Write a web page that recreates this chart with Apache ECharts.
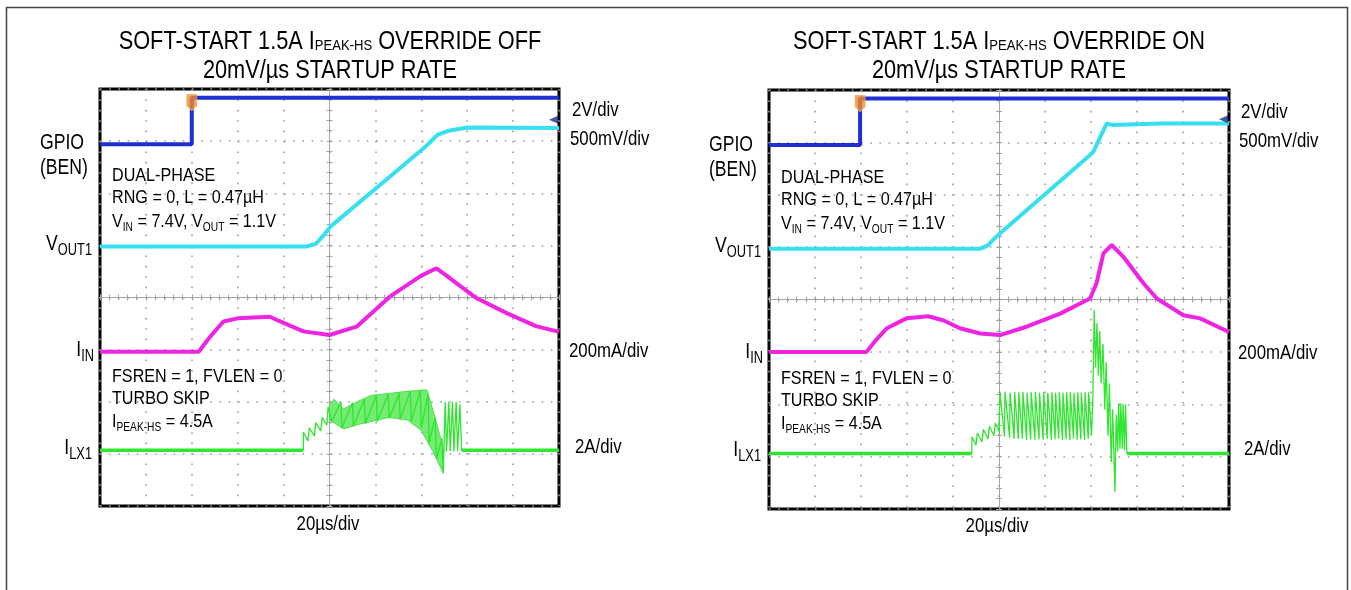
<!DOCTYPE html>
<html>
<head>
<meta charset="utf-8">
<script src="https://cdn.jsdelivr.net/npm/echarts@6/dist/echarts.min.js"></script>
<style>
  html, body { margin: 0; padding: 0; background: #fff; }
  #chart { width: 1351px; height: 590px; }
</style>
</head>
<body>
<div id="chart"></div>
<script>
// x: divisions from screen centre (20us/div), y: divisions from screen centre

// ---- left scope shot: 1.5A IPEAK-HS override OFF
const gpioOff = [[-5, 2.94], [-3.0, 2.94], [-3.0, 3.83], [5, 3.83]];
const voutOff = [[-5, 0.98], [-0.5, 0.98], [-0.3, 1.03], [-0.12, 1.2], [0.02, 1.36], [1.32, 2.32], [2.1, 2.9], [2.35, 3.12], [2.6, 3.2], [3.0, 3.26], [5, 3.25]];
const iinOff = [[-5, -1.04], [-2.85, -1.04], [-2.6, -0.75], [-2.31, -0.46], [-2.0, -0.4], [-1.3, -0.37], [-1.1, -0.45], [-0.57, -0.65], [0.0, -0.72], [0.59, -0.56], [1.32, 0.02], [2.0, 0.42], [2.33, 0.56], [2.55, 0.42], [2.77, 0.27], [3.2, -0.01], [3.86, -0.3], [4.5, -0.55], [5, -0.66]];
const ilxPreOff = [[-5, -2.93], [-0.57, -2.93]];
const ilxPostOff = [[2.88, -2.93], [5, -2.93]];
const ilxBurstOff = [[-0.57, -2.93], [-0.57, -2.58], [-0.47, -2.75], [-0.44, -2.5], [-0.33, -2.66], [-0.3, -2.4], [-0.19, -2.56], [-0.16, -2.3], [-0.06, -2.45], [-0.03, -2.1], [0.05, -2.38],
  [0.25, -2.0], [0.27, -2.5], [0.5, -2.02], [0.52, -2.47], [0.76, -1.95], [0.78, -2.42], [1.02, -1.88], [1.04, -2.38], [1.28, -1.85], [1.3, -2.32], [1.52, -1.83], [1.54, -2.33],
  [1.76, -1.8], [1.78, -2.38], [1.98, -1.78], [2.0, -2.5], [2.15, -1.85], [2.17, -2.8], [2.3, -2.3], [2.33, -3.1], [2.45, -2.7], [2.48, -3.37],
  [2.52, -2.0], [2.55, -2.95], [2.6, -2.0], [2.63, -2.95], [2.68, -2.0], [2.71, -2.95], [2.76, -2.0], [2.79, -2.95], [2.84, -2.05], [2.88, -2.93]];
const ilxBandTopOff = [[0.0, -2.06], [0.1, -1.95], [0.3, -2.14], [0.6, -2.0], [0.9, -1.88], [1.3, -1.84], [1.7, -1.8], [2.12, -1.77], [2.3, -2.3], [2.48, -2.9]];
const ilxBandBottomOff = [[0.0, -2.35], [0.3, -2.52], [0.7, -2.42], [1.3, -2.3], [1.7, -2.35], [2.0, -2.55], [2.25, -2.95], [2.48, -3.37]];
const trigOff = [[-3.0, 3.74]];
const levelOff = [[4.88, 3.41]];

// ---- right scope shot: 1.5A IPEAK-HS override ON
const gpioOn = [[-5, 2.95], [-3.02, 2.95], [-3.02, 3.84], [5, 3.84]];
const voutOn = [[-5, 0.97], [-0.41, 0.97], [-0.25, 1.03], [-0.08, 1.18], [0.02, 1.26], [1.98, 2.76], [2.05, 2.82], [2.2, 3.1], [2.34, 3.36], [2.48, 3.33], [3.5, 3.36], [5, 3.36]];
const iinOn = [[-5, -1.0], [-2.88, -1.0], [-2.7, -0.8], [-2.44, -0.55], [-2.01, -0.36], [-1.54, -0.32], [-1.2, -0.4], [-0.85, -0.55], [-0.41, -0.65], [0.02, -0.68], [0.6, -0.52], [1.33, -0.27], [1.98, 0.02], [2.12, 0.31], [2.27, 0.88], [2.45, 1.04], [2.7, 0.82], [3.14, 0.31], [3.43, 0.02], [4.01, -0.3], [4.37, -0.36], [5, -0.62]];
const ilxPreOn = [[-5, -2.94], [-0.59, -2.94]];
const ilxPostOn = [[2.78, -2.94], [5, -2.94]];
const ilxBurstOn = [[-0.59, -2.94], [-0.59, -2.62], [-0.5, -2.78], [-0.47, -2.55], [-0.37, -2.72], [-0.34, -2.48], [-0.24, -2.66], [-0.21, -2.42], [-0.11, -2.6], [-0.08, -2.36], [0.0, -2.52],
  [0.02, -1.76], [0.12, -2.62], [0.13, -1.76], [0.23, -2.64], [0.24, -1.78], [0.33, -2.66], [0.34, -1.76], [0.42, -2.66], [0.43, -1.77], [0.51, -2.66], [0.52, -1.76], [0.6, -2.68],
  [0.61, -1.78], [0.69, -2.67], [0.7, -1.77], [0.78, -2.68], [0.79, -1.76], [0.87, -2.67], [0.88, -1.78], [0.96, -2.68], [0.97, -1.77], [1.05, -2.66], [1.06, -1.78], [1.14, -2.68],
  [1.15, -1.77], [1.22, -2.67], [1.23, -1.78], [1.3, -2.66], [1.31, -1.77], [1.38, -2.68], [1.39, -1.78], [1.46, -2.67], [1.47, -1.77], [1.54, -2.68], [1.55, -1.77], [1.62, -2.66],
  [1.63, -1.78], [1.7, -2.68], [1.71, -1.77], [1.78, -2.67], [1.79, -1.78], [1.86, -2.68], [1.87, -1.77], [1.94, -2.66], [1.95, -1.77], [2.01, -2.6],
  [2.04, -1.9], [2.07, -0.2], [2.1, -1.3], [2.13, -0.45], [2.16, -1.45], [2.19, -0.6], [2.22, -1.6], [2.26, -0.85], [2.3, -2.1], [2.33, -1.2], [2.37, -2.6], [2.4, -1.6],
  [2.44, -3.1], [2.47, -2.1], [2.52, -3.67], [2.55, -2.2], [2.58, -2.9], [2.6, -1.98], [2.63, -2.85], [2.65, -1.98], [2.68, -2.85], [2.7, -2.0], [2.73, -2.88], [2.75, -2.0], [2.78, -2.94]];
const trigOn = [[-3.02, 3.74]];
const levelOn = [[4.88, 3.44]];

const FONT = '"Liberation Sans", Arial, Helvetica, sans-serif';
const BLUE = '#1f30d2', CYAN = '#36e0ef', MAGENTA = '#ee24e2', GREEN = '#2fe52f';

let chartDom = document.getElementById('chart');
let myChart = echarts.init(chartDom);

function axesFor(g) {
  const common = {
    gridIndex: g, type: 'value', axisLabel: { show: false },
    axisLine: { onZero: true, lineStyle: { color: '#a5a5a5', width: 1 } },
    axisTick: { show: true, length: 3, lineStyle: { color: '#a5a5a5' } },
    minorTick: { show: true, splitNumber: 5, length: 3, lineStyle: { color: '#a5a5a5' } }
  };
  const x = Object.assign({}, common, { min: -5, max: 5, interval: 1 });
  const y = Object.assign({}, common, { min: -4, max: 4, interval: 1 });
  return {
    x: [
      Object.assign({}, x, { position: 'bottom', splitLine: { show: true, lineStyle: { color: '#9c9c9c', width: 1.6, type: [1.6, 8.8] } } }),
      Object.assign({}, x, { position: 'top', splitLine: { show: false } })
    ],
    y: [
      Object.assign({}, y, { position: 'left', splitLine: { show: true, lineStyle: { color: '#9c9c9c', width: 1.6, type: [1.6, 7.6] } } }),
      Object.assign({}, y, { position: 'right', splitLine: { show: false } })
    ]
  };
}

function trace(xi, data, color, width) {
  return { type: 'line', xAxisIndex: xi, yAxisIndex: xi, data: data, showSymbol: false, silent: true,
    lineStyle: { color: color, width: width }, animation: false };
}

function panelSeries(xi, d) {
  let s = [];
  if (d.bandTop) {
    s.push({
      type: 'custom', xAxisIndex: xi, yAxisIndex: xi, data: [[0, 0]], silent: true, z: 1, animation: false,
      renderItem: (params, api) => {
        const pts = d.bandTop.concat(d.bandBottom.slice().reverse()).map(p => api.coord(p));
        return { type: 'polygon', shape: { points: pts }, style: { fill: '#74ec74', stroke: '#4fe04f', lineWidth: 1 } };
      }
    });
  }
  s.push(trace(xi, d.burst, GREEN, 1.3));
  s.push(trace(xi, d.pre, GREEN, 3.5));
  s.push(trace(xi, d.post, GREEN, 3.5));
  s.push(trace(xi, d.iin, MAGENTA, 4));
  s.push(trace(xi, d.vout, CYAN, 4));
  s.push(trace(xi, d.gpio, BLUE, 4));
  s.push({ type: 'scatter', xAxisIndex: xi, yAxisIndex: xi, data: d.trig, silent: true, animation: false, z: 5,
    symbol: 'path://M0,0 L10,0 L10,11 L5,16 L0,11 Z', symbolSize: [10, 16],
    itemStyle: { color: '#f0892a', borderColor: '#f6b070', borderWidth: 1 } });
  s.push({ type: 'scatter', xAxisIndex: xi, yAxisIndex: xi, data: d.level, silent: true, animation: false, z: 5,
    symbol: 'triangle', symbolRotate: 90, symbolSize: [8, 9], itemStyle: { color: '#1c2a90' } });
  return s;
}

// text helper: parts = [[text, isSub], ...]
function txt(x, y, parts, o) {
  const fm = o.size, fs = o.sub || Math.round(fm * 0.63), pad = o.pad || 8;
  return {
    type: 'text', x: x, y: y, scaleX: o.scale || 0.85, z: 100, silent: true,
    style: {
      text: parts.map(p => '{' + (p[1] ? 's' : 'm') + '|' + p[0] + '}').join(''),
      align: o.align || 'left', textAlign: o.align || 'left',
      verticalAlign: 'middle', textVerticalAlign: 'middle',
      fill: '#000',
      rich: {
        m: { fontSize: fm, fontFamily: FONT, fill: '#000', lineHeight: fm * 1.2 },
        s: { fontSize: fs, fontFamily: FONT, fill: '#000', lineHeight: fm * 1.2, padding: [pad, 0, 0, 0] }
      }
    }
  };
}

function panelTexts(dx, dy, mode) {
  const ann = { size: 19, sub: 12, pad: 11, scale: 0.85 };
  const side = { size: 21, scale: 0.8 };
  const lab = { size: 22, sub: 16, pad: 13, scale: 0.8, align: 'right' };
  return [
    txt(330 + dx, 42, [['SOFT-START 1.5A I'], ['PEAK-HS', 1], [' OVERRIDE ' + mode]], { size: 25, sub: 15, pad: 8, scale: 0.87, align: 'center' }),
    txt(330 + dx, 71, [['20mV/µs STARTUP RATE']], { size: 25, scale: 0.87, align: 'center' }),
    txt(112 + dx, 176 + dy, [['DUAL-PHASE']], ann),
    txt(112 + dx, 198 + dy, [['RNG = 0, L = 0.47µH']], ann),
    txt(112 + dx, 222 + dy, [['V'], ['IN', 1], [' = 7.4V, V'], ['OUT', 1], [' = 1.1V']], ann),
    txt(112 + dx, 377 + dy, [['FSREN = 1, FVLEN = 0']], ann),
    txt(112 + dx, 399 + dy, [['TURBO SKIP']], ann),
    txt(112 + dx, 422 + dy, [['I'], ['PEAK-HS', 1], [' = 4.5A']], ann),
    txt(572 + dx, 110 + dy, [['2V/div']], side),
    txt(570 + dx, 139 + dy, [['500mV/div']], side),
    txt(569 + dx, 351 + dy, [['200mA/div']], side),
    txt(575 + dx, 447 + dy, [['2A/div']], side),
    txt(40 + dx, 143 + dy, [['GPIO']], { size: 22, scale: 0.8 }),
    txt(40 + dx, 168 + dy, [['(BEN)']], { size: 22, scale: 0.8 }),
    txt(92 + dx, 244 + dy, [['V'], ['OUT1', 1]], lab),
    txt(94 + dx, 350 + dy, [['I'], ['IN', 1]], lab),
    txt(92 + dx, 448 + dy, [['I'], ['LX1', 1]], lab),
    txt(328 + dx, 524 + dy, [['20µs/div']], { size: 21, scale: 0.8, align: 'center' })
  ];
}

const left = axesFor(0), right = axesFor(1);

let option = {
  backgroundColor: '#fff',
  animation: false,
  grid: [
    { left: 100, top: 89, width: 459, height: 417, show: true, borderColor: '#000', borderWidth: 3, backgroundColor: '#fff' },
    { left: 769, top: 90, width: 460, height: 419, show: true, borderColor: '#000', borderWidth: 3, backgroundColor: '#fff' }
  ],
  xAxis: left.x.concat(right.x),
  yAxis: left.y.concat(right.y),
  series: panelSeries(0, { gpio: gpioOff, vout: voutOff, iin: iinOff, pre: ilxPreOff, post: ilxPostOff, burst: ilxBurstOff,
      bandTop: ilxBandTopOff, bandBottom: ilxBandBottomOff, trig: trigOff, level: levelOff })
    .concat(panelSeries(2, { gpio: gpioOn, vout: voutOn, iin: iinOn, pre: ilxPreOn, post: ilxPostOn, burst: ilxBurstOn,
      trig: trigOn, level: levelOn })),
  graphic: [
    { type: 'rect', shape: { x: 6.5, y: 7.5, width: 1341, height: 620 }, style: { fill: 'none', stroke: '#444', lineWidth: 1.5 }, silent: true, z: 0 }
  ].concat(panelTexts(0, 0, 'OFF'), panelTexts(669, 2, 'ON'))
};

option && myChart.setOption(option);
</script>
</body>
</html>
